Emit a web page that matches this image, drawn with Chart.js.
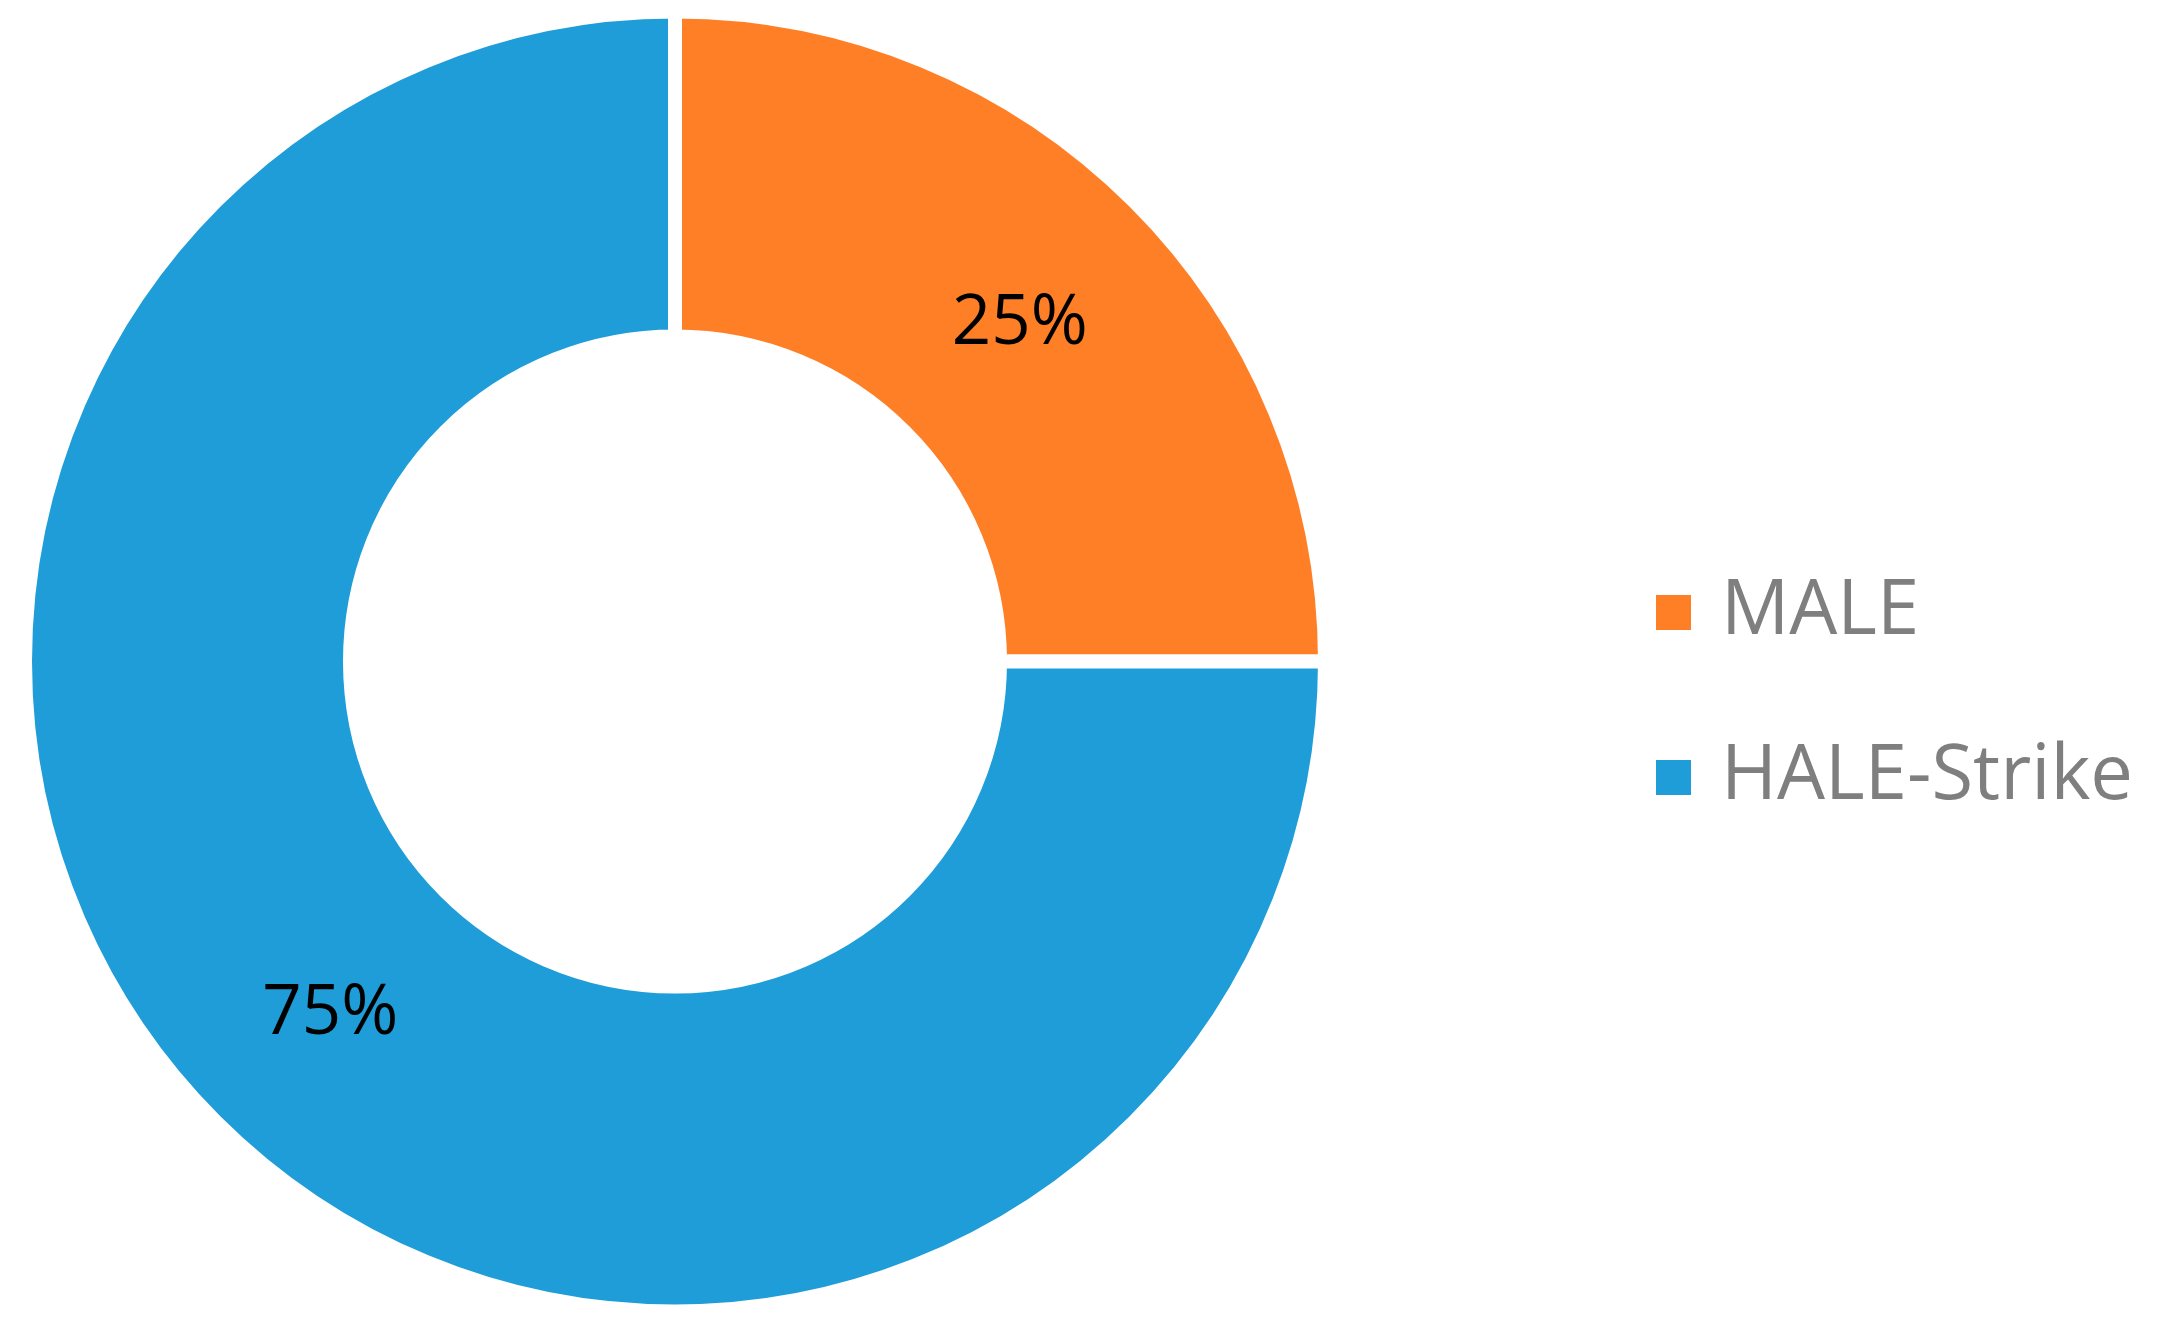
<!DOCTYPE html>
<html>
<head>
<meta charset="utf-8">
<script src="https://cdn.jsdelivr.net/npm/chart.js@4.4.1/dist/chart.umd.min.js"></script>
<style>
  html, body { margin: 0; padding: 0; background: #ffffff; }
  #wrap { width: 2161px; height: 1323px; }
</style>
</head>
<body>
<div id="wrap"><canvas id="c" width="2161" height="1323"></canvas></div>
<script>
const categories = ['MALE', 'HALE-Strike'];
const shareValues = [25, 75];
const sliceColors = ['#FF7F27', '#1E9DD8'];

function swatch(color) {
  const cv = document.createElement('canvas');
  cv.width = 35; cv.height = 35;
  const g = cv.getContext('2d');
  g.fillStyle = color;
  g.fillRect(0, 0, 35, 35);
  return cv;
}

const pctLabels = {
  id: 'pctLabels',
  afterDatasetsDraw(chart) {
    const ctx = chart.ctx;
    const meta = chart.getDatasetMeta(0);
    ctx.save();
    ctx.font = '69px "Open Sans"';
    ctx.fillStyle = '#000000';
    ctx.textAlign = 'center';
    ctx.textBaseline = 'middle';
    meta.data.forEach((arc, i) => {
      const p = arc.tooltipPosition();
      ctx.fillText(shareValues[i] + '%', p.x, p.y + 8);
    });
    ctx.restore();
  }
};

// keep the ring centred in the left part of the canvas, independent of legend width
const ringArea = {
  id: 'ringArea',
  afterLayout(chart) {
    const a = chart.chartArea;
    a.left = 0; a.right = 1350; a.width = 1350;
    a.top = 0; a.bottom = 1323; a.height = 1323;
  }
};

new Chart(document.getElementById('c'), {
  type: 'doughnut',
  data: {
    labels: categories,
    datasets: [{
      data: shareValues,
      backgroundColor: sliceColors,
      borderColor: '#ffffff',
      borderWidth: 14,
      hoverBorderWidth: 14,
      borderJoinStyle: 'miter',
      hoverOffset: 0
    }]
  },
  options: {
    responsive: false,
    animation: false,
    events: [],
    radius: 650,
    cutout: '50%',
    layout: { padding: { left: 0, right: 18, top: 0, bottom: 0 } },
    plugins: {
      tooltip: { enabled: false },
      legend: {
        position: 'right',
        align: 'center',
        title: { display: true, text: '', font: { size: 10 }, padding: { top: 0, bottom: 55 } },
        labels: {
          font: { family: '"Open Sans"', size: 76 },
          color: '#7F7F7F',
          usePointStyle: true,
          boxWidth: 18,
          boxHeight: 35,
          padding: 89,
          generateLabels(chart) {
            return chart.data.labels.map((lab, i) => ({
              text: lab,
              fillStyle: sliceColors[i],
              strokeStyle: sliceColors[i],
              lineWidth: 0,
              pointStyle: swatch(sliceColors[i]),
              fontColor: '#7F7F7F',
              hidden: false,
              index: i
            }));
          }
        }
      }
    }
  },
  plugins: [ringArea, pctLabels]
});
</script>
</body>
</html>
